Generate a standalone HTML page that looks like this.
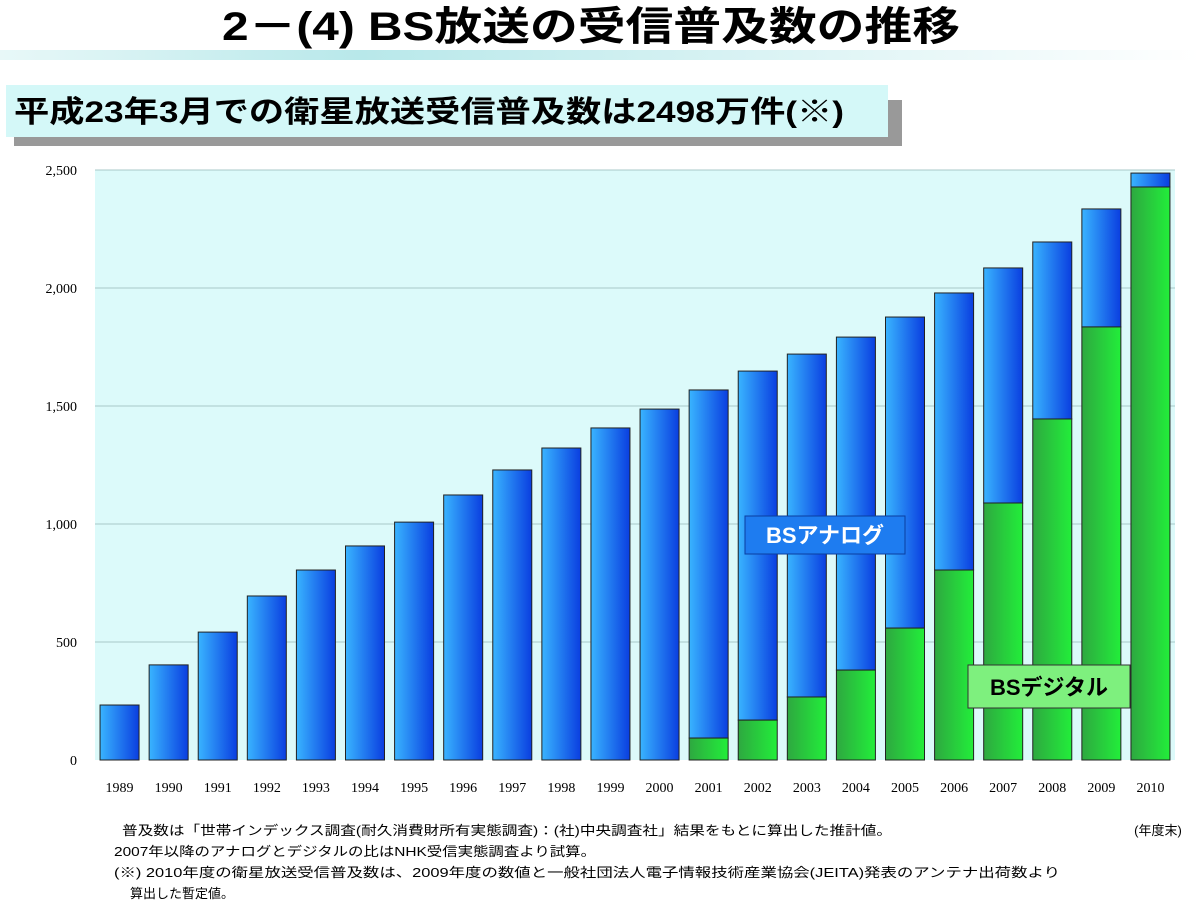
<!DOCTYPE html>
<html><head><meta charset="utf-8"><style>
body{margin:0;background:#fff;width:1200px;height:905px;overflow:hidden;font-family:"Liberation Sans","Noto Sans CJK JP",sans-serif;}
</style></head><body>
<svg width="1200" height="905" xmlns="http://www.w3.org/2000/svg">
<defs>
<linearGradient id="gb" x1="0" x2="1"><stop offset="0" stop-color="#39b4ff"/><stop offset="1" stop-color="#0a3ee0"/></linearGradient>
<linearGradient id="gg" x1="0" x2="1"><stop offset="0" stop-color="#2ea840"/><stop offset="1" stop-color="#22ee3a"/></linearGradient>
<linearGradient id="band" x1="0" x2="1"><stop offset="0" stop-color="#e8f8f8"/><stop offset="0.3" stop-color="#b8e8ea"/><stop offset="1" stop-color="#ffffff"/></linearGradient>
</defs>
<text x="222" y="40" textLength="738" lengthAdjust="spacingAndGlyphs" font-size="40" font-weight="bold">2－(4)  BS放送の受信普及数の推移</text>
<rect x="0" y="50" width="1200" height="10" fill="url(#band)"/>
<rect x="14" y="100" width="888" height="46" fill="#999"/>
<rect x="6" y="85" width="882" height="52" fill="#d4f8f8"/>
<text x="14" y="122" textLength="830" lengthAdjust="spacingAndGlyphs" font-size="30" font-weight="bold">平成23年3月での衛星放送受信普及数は2498万件(※)</text>
<g id="chart"></g>
<text x="1158" y="835" text-anchor="middle" font-size="13">(年度末)</text>
<g font-size="13">
<text x="122" y="835" textLength="770" lengthAdjust="spacingAndGlyphs">普及数は「世帯インデックス調査(耐久消費財所有実態調査)：(社)中央調査社」結果をもとに算出した推計値。</text>
<text x="114" y="856" textLength="482" lengthAdjust="spacingAndGlyphs">2007年以降のアナログとデジタルの比はNHK受信実態調査より試算。</text>
<text x="114" y="877" textLength="946" lengthAdjust="spacingAndGlyphs">(※) 2010年度の衛星放送受信普及数は、2009年度の数値と一般社団法人電子情報技術産業協会(JEITA)発表のアンテナ出荷数より</text>
<text x="130" y="898">算出した暫定値。</text>
</g>
</svg>
<script>
const years=["1989","1990","1991","1992","1993","1994","1995","1996","1997","1998","1999","2000","2001","2002","2003","2004","2005","2006","2007","2008","2009","2010"];
const totals=[233,403,542,695,805,907,1008,1123,1229,1322,1407,1487,1568,1648,1720,1792,1877,1979,2085,2195,2335,2487];
const digital=[0,0,0,0,0,0,0,0,0,0,0,0,93,169,267,381,559,805,1089,1445,1835,2428];
const yTicks=[0,500,1000,1500,2000,2500];
const yTickLabels=["0","500","1,000","1,500","2,000","2,500"];
const NS="http://www.w3.org/2000/svg";
const g=document.getElementById('chart');
const X0=95,X1=1175,Y0=760,Y1=170,YMAX=2500;
const band=(X1-X0)/years.length;
const y=v=>Y0-(v/YMAX)*(Y0-Y1);
const xc=i=>X0+band*(i+0.5);
function mk(t,a){const e=document.createElementNS(NS,t);for(const k in a)e.setAttribute(k,a[k]);g.appendChild(e);return e;}
let bg=mk('rect',{x:X0,y:Y1,width:X1-X0,height:Y0-Y1,fill:'#dcfafa'});


yTicks.forEach((t,i)=>{
  if(t>0){let l=mk('line',{x1:X0,x2:X1,y1:y(t),y2:y(t),stroke:'#a8c8c8','stroke-width':1});
  
  }
  let tx=mk('text',{x:X0-18,y:y(t)+5,'text-anchor':'end','font-size':14,'font-family':'Liberation Serif,serif'});
  tx.textContent=yTickLabels[i];
  
  
});
const bw=39;
years.forEach((yr,i)=>{
  let a=mk('rect',{x:xc(i)-bw/2,y:y(totals[i]),width:bw,height:y(digital[i])-y(totals[i]),fill:'url(#gb)',stroke:'#222','stroke-width':1});
  
  
  if(digital[i]>0){let d=mk('rect',{x:xc(i)-bw/2,y:y(digital[i]),width:bw,height:Y0-y(digital[i]),fill:'url(#gg)',stroke:'#222','stroke-width':1});
  
  }
  let t=mk('text',{x:xc(i),y:Y0+32,'text-anchor':'middle','font-size':14,'font-family':'Liberation Serif,serif'});
  t.textContent=yr;
  
  
});
let la=mk('rect',{x:745,y:516,width:160,height:38,fill:'#1e7cf0',stroke:'#0a3ea0'});


let lt=mk('text',{x:825,y:543,'text-anchor':'middle','font-size':22,'font-weight':'bold',fill:'#fff'});lt.textContent='BSアナログ';


let ld=mk('rect',{x:968,y:665,width:162,height:43,fill:'#7ef07e',stroke:'#333'});


let dt=mk('text',{x:1049,y:695,'text-anchor':'middle','font-size':22,'font-weight':'bold',fill:'#000'});dt.textContent='BSデジタル';


</script>
</body></html>
